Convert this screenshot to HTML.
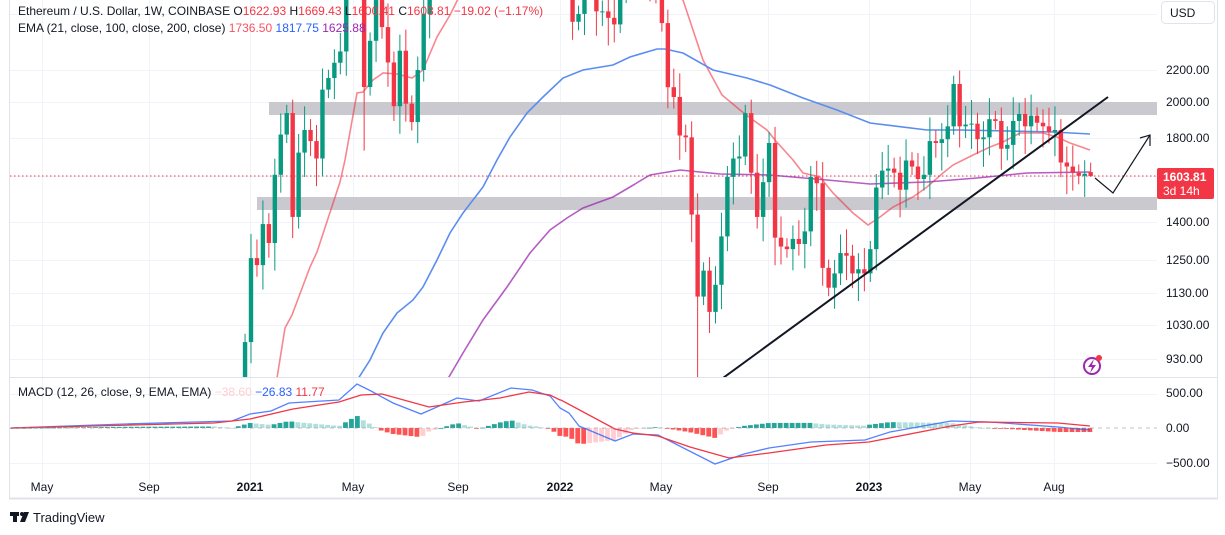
<!DOCTYPE html>
<html><head><meta charset="utf-8"><style>
html,body{margin:0;padding:0;background:#fff;}
svg{display:block;font-family:"Liberation Sans",sans-serif;}
</style></head><body>
<svg id="s" width="1225" height="535" viewBox="0 0 1225 535" xmlns="http://www.w3.org/2000/svg">
<defs>
<clipPath id="cm"><rect x="10" y="0" width="1147" height="377"/></clipPath>
<clipPath id="cd"><rect x="10" y="378" width="1147" height="119"/></clipPath>
</defs>
<g id="grid" stroke="#f0f3fa" stroke-width="1"></g>
<g id="bands" clip-path="url(#cm)">
<rect x="269" y="102" width="888" height="13" fill="#c9c9cf"/>
<rect x="257" y="197" width="900" height="13" fill="#c9c9cf"/>
</g>
<line x1="10" y1="176" x2="1157" y2="176" stroke="#f23645" stroke-width="1" stroke-dasharray="1.5,2.5"/>
<g id="ema" clip-path="url(#cm)" fill="none" stroke-width="1.6"></g>
<g id="candles" clip-path="url(#cm)"></g>
<g clip-path="url(#cm)">
<line x1="723" y1="378" x2="1108" y2="97" stroke="#131722" stroke-width="2"/>
<polyline points="1095,178 1113,193 1150,135" fill="none" stroke="#131722" stroke-width="1.2"/>
<polyline points="1140,138 1150,135 1150,146" fill="none" stroke="#131722" stroke-width="1.2"/>
</g>
<g id="macd" clip-path="url(#cd)"></g>
<line x1="10" y1="428" x2="1157" y2="428" stroke="#9598a1" stroke-width="1" stroke-dasharray="4,4" opacity="0.6"/>
<line x1="10" y1="377.5" x2="1217" y2="377.5" stroke="#e0e3eb"/>
<line x1="9.5" y1="0" x2="9.5" y2="498" stroke="#e0e3eb"/>
<line x1="1217.5" y1="0" x2="1217.5" y2="498" stroke="#e0e3eb"/>
<line x1="9" y1="498.5" x2="1218" y2="498.5" stroke="#e0e3eb" stroke-width="2"/>
<g font-size="12" fill="#131722">
<text x="1166" y="74">2200.00</text>
<text x="1166" y="106">2000.00</text>
<text x="1166" y="142">1800.00</text>
<text x="1166" y="226">1400.00</text>
<text x="1166" y="264">1250.00</text>
<text x="1166" y="297">1130.00</text>
<text x="1166" y="329">1030.00</text>
<text x="1166" y="363">930.00</text>
<text x="1166" y="397">500.00</text>
<text x="1166" y="432">0.00</text>
<text x="1166" y="467">−500.00</text>
</g>
<rect x="1157" y="168" width="57" height="31" rx="2" fill="#f23645"/>
<text x="1163" y="181" font-size="12" font-weight="bold" fill="#fff">1603.81</text>
<text x="1163" y="195" font-size="12" fill="#fff">3d 14h</text>
<rect x="1161.5" y="1.5" width="53" height="22" rx="4" fill="#fff" stroke="#e0e3eb"/>
<text x="1170" y="17" font-size="12" fill="#131722">USD</text>
<g font-size="12" fill="#131722">
<text x="42" y="491" text-anchor="middle">May</text>
<text x="149" y="491" text-anchor="middle">Sep</text>
<text x="250" y="491" text-anchor="middle" font-weight="bold">2021</text>
<text x="353" y="491" text-anchor="middle">May</text>
<text x="458" y="491" text-anchor="middle">Sep</text>
<text x="560" y="491" text-anchor="middle" font-weight="bold">2022</text>
<text x="661" y="491" text-anchor="middle">May</text>
<text x="768" y="491" text-anchor="middle">Sep</text>
<text x="869" y="491" text-anchor="middle" font-weight="bold">2023</text>
<text x="970" y="491" text-anchor="middle">May</text>
<text x="1054" y="491" text-anchor="middle">Aug</text>
</g>
<text x="18" y="15" font-size="12" fill="#131722">Ethereum / U.S. Dollar, 1W, COINBASE <tspan fill="#131722">O</tspan><tspan fill="#f23645">1622.93</tspan> <tspan fill="#131722">H</tspan><tspan fill="#f23645">1669.43</tspan> <tspan fill="#131722">L</tspan><tspan fill="#f23645">1600.41</tspan> <tspan fill="#131722">C</tspan><tspan fill="#f23645">1603.81</tspan> <tspan fill="#f23645">−19.02 (−1.17%)</tspan></text>
<text x="18" y="32" font-size="12" fill="#131722">EMA (21, close, 100, close, 200, close) <tspan fill="#f7525f">1736.50</tspan> <tspan fill="#2962ff">1817.75</tspan> <tspan fill="#9c27b0">1625.88</tspan></text>
<text x="18" y="396" font-size="12" fill="#131722">MACD (12, 26, close, 9, EMA, EMA) <tspan fill="#ffcdd2">−38.60</tspan> <tspan fill="#2962ff">−26.83</tspan> <tspan fill="#f23645">11.77</tspan></text>
<circle cx="1092" cy="366" r="8" fill="none" stroke="#9c27b0" stroke-width="2"/>
<path d="M1094,359 L1088,367 L1092,367 L1090,373 L1096,365 L1092,365 Z" fill="#9c27b0"/>
<circle cx="1099" cy="358" r="3" fill="#f23645"/>
<g fill="#131722"><rect x="10" y="512" width="9" height="4"/><rect x="13" y="512" width="4" height="10"/><circle cx="22" cy="514" r="2"/><path d="M24,512 L29,512 L25,522 L20,522 Z"/></g>
<text x="33" y="522" font-size="13" fill="#131722">TradingView</text>
</svg>
<script>
(function(){
var NS="http://www.w3.org/2000/svg";
function el(p,t,a){var e=document.createElementNS(NS,t);for(var k in a)e.setAttribute(k,a[k]);p.appendChild(e);return e;}
var g=document.getElementById('grid');
[14,70,102,138,176,222,260,293,325,359,394,463].forEach(function(y){el(g,'line',{x1:10,x2:1157,y1:y+.5,y2:y+.5});});
[42,149,250,353,458,560,661,768,869,970,1054].forEach(function(x){el(g,'line',{x1:x+.5,x2:x+.5,y1:0,y2:497});});
function py(p){return 70+(Math.log(2200)-Math.log(p))*335.6;}
var closes=[978,1256,1230,1390,1314,1610,1815,1935,1420,1720,1840,1780,1690,2075,2148,2248,2325,2950,3900,3580,2091,2400,2710,2500,2250,1975,2330,1990,1884,2200,2600,3160,3300,3230,3230,3950,3400,3330,2930,3410,3410,3850,4170,4290,4610,4570,4290,4290,4190,3960,3950,4050,3760,3150,3330,2540,2600,3000,2890,2620,2620,2570,2520,2860,3300,3450,3210,3000,2930,2830,2530,2090,2030,1810,1800,1430,1120,1210,1070,1160,1340,1600,1690,1700,1935,1620,1420,1575,1770,1335,1300,1290,1330,1310,1360,1600,1570,1220,1150,1200,1275,1265,1200,1215,1200,1290,1550,1630,1640,1620,1540,1680,1650,1590,1610,1780,1770,1790,1860,2110,1860,1870,1875,1790,1800,1900,1890,1740,1760,1890,1930,1860,1920,1880,1860,1830,1840,1670,1650,1620,1605,1615,1603.81];
var cg=document.getElementById('candles');
var prev=735;
for(var j=0;j<closes.length;j++){
 var i=j-1,x=251+i*5.955,o=prev,c=closes[j];
 if(j==closes.length-1)o=1622.93;
 var hi=Math.max(o,c)*(1.025+((j*37)%7)*0.008),lo=Math.min(o,c)*(0.975-((j*53)%7)*0.009);
 if(j==closes.length-1){hi=1669.43;lo=1600.41;}
 if(i==75)lo=870;if(i==19)lo=1730;if(i==0)hi=1350;
 var col=c>=o?'#089981':'#f23645';
 el(cg,'line',{x1:x,x2:x,y1:py(hi),y2:py(lo),stroke:col,'stroke-width':1});
 var y1=py(Math.max(o,c)),y2=py(Math.min(o,c));
 el(cg,'rect',{x:x-2.2,y:y1,width:4.4,height:Math.max(1,y2-y1),fill:col});
 prev=c;
}
var ema=document.getElementById('ema');
function pl(pts,col,op,p){el(p||ema,'polyline',{points:pts.map(function(a){return a.join(',')}).join(' '),stroke:col,'stroke-opacity':op,fill:'none','stroke-width':p?1.3:1.6});}
pl([[265,380],[277,378],[285,328],[292,315],[310,267],[317,252],[340,182],[345,160],[357,93],[363,92],[373,80],[383,73],[397,74],[412,78],[423,70],[437,37],[450,15],[460,-5]],'#f23645',0.6);
pl([[675,-5],[683,0],[703,60],[722,95],[740,110],[753,120],[767,130],[775,140],[793,160],[803,173],[820,177],[833,193],[853,213],[868,225],[880,217],[893,207],[913,197],[927,187],[943,173],[953,165],[973,155],[990,147],[1003,142],[1020,133],[1043,133],[1057,137],[1070,143],[1090,150]],'#f23645',0.6);
pl([[356,382],[370,360],[383,333],[397,313],[413,300],[423,287],[437,260],[450,233],[463,213],[483,187],[497,160],[510,137],[527,113],[543,97],[563,78],[583,70],[613,65],[630,57],[657,49],[665,49],[683,53],[713,70],[747,78],[770,85],[803,98],[837,110],[870,123],[927,130],[960,130],[1053,132],[1090,134]],'#5b8def',1);
pl([[446,382],[463,353],[483,320],[507,287],[530,253],[550,230],[567,218],[583,208],[613,197],[630,187],[650,175],[680,170],[720,174],[770,175],[827,180],[870,184],[927,182],[977,178],[1027,173],[1090,172]],'#9c27b0',0.75);
var blue=[[11,428],[125,424],[232,421],[250,414],[271,411],[289,403],[339,400],[357,384],[371,391],[393,403],[421,414],[446,403],[457,398],[479,401],[511,388],[532,390],[550,396],[560,408],[569,413],[579,426],[615,441],[633,434],[658,435],[715,464],[744,454],[769,448],[811,442],[865,440],[890,432],[951,421],[990,422],[1058,427],[1090,430]];
var red=[[11,428],[214,423],[250,419],[293,409],[339,402],[361,395],[382,394],[429,407],[464,402],[500,398],[529,392],[550,395],[560,400],[561,400],[615,429],[633,433],[658,436],[690,447],[729,458],[769,453],[826,445],[869,442],[951,426],[979,422],[1058,423],[1090,426]];
function it(a,x){for(var k=0;k<a.length-1;k++){if(x>=a[k][0]&&x<=a[k+1][0]){var t=(x-a[k][0])/(a[k+1][0]-a[k][0]);return a[k][1]+t*(a[k+1][1]-a[k][1]);}}return a[a.length-1][1];}
var mg=document.getElementById('macd');
var ph=null;
for(var x=12;x<=1091;x+=5.955){
 var h=it(red,x)-it(blue,x);
 var colr;
 if(h>=0)colr=(ph===null||h>=ph)?'#26a69a':'#b2dfdb';else colr=(ph===null||h<=ph)?'#ff5252':'#ffcdd2';
 ph=h;
 var y=h>=0?428-h:428, hh=Math.max(0.8,Math.abs(h));
 el(mg,'rect',{x:x-2.4,y:y,width:4.8,height:hh,fill:colr});
}
pl(blue,'#2962ff',0.8,mg);
pl(red,'#f23645',1,mg);
})();
</script>
</body></html>
